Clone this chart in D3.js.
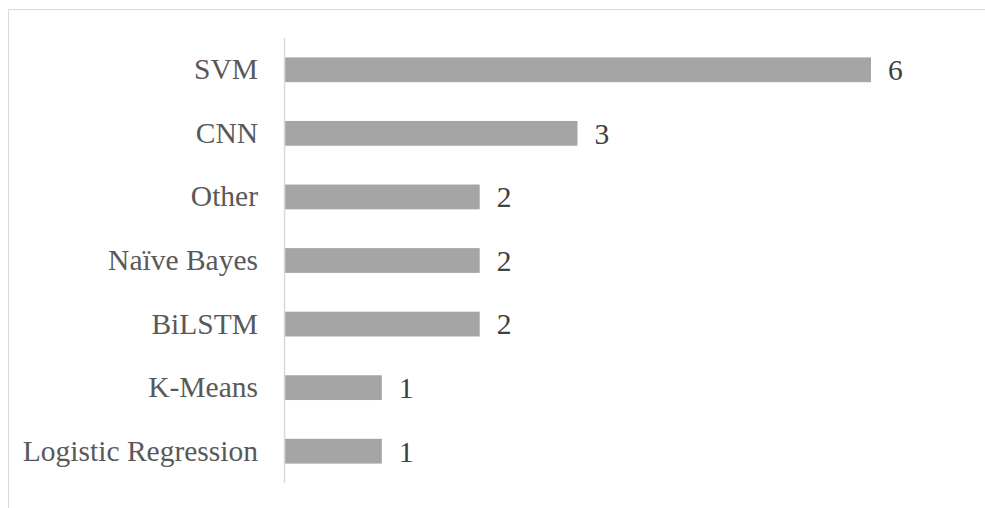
<!DOCTYPE html>
<html>
<head>
<meta charset="utf-8">
<script src="https://cdn.jsdelivr.net/npm/d3@7"></script>
<style>
  html, body { margin: 0; padding: 0; background: #fff; }
  svg { display: block; }
</style>
</head>
<body>
<svg id="chart" width="985" height="508"></svg>
<script>
// Classifier usage counts, top to bottom
const categories = ["SVM", "CNN", "Other", "Naïve Bayes", "BiLSTM", "K-Means", "Logistic Regression"];
const counts = [6, 3, 2, 2, 2, 1, 1];

const svg = d3.select("#chart");
const W = 985, H = 508;
const font = "'Liberation Serif', 'Times New Roman', serif";
const fontSize = 29.5;

// chart-area frame
svg.append("rect")
  .attr("x", 8.5).attr("y", 9.5)
  .attr("width", W + 10).attr("height", H + 10)
  .attr("fill", "none").attr("stroke", "#d9d9d9").attr("stroke-width", 1);

const plot = { left: 284, right: 871, top: 38, bottom: 483 };

const x = d3.scaleLinear().domain([0, 6]).range([plot.left, plot.right]);
const y = d3.scaleBand().domain(categories).range([plot.top, plot.bottom])
  .paddingInner(0.61).paddingOuter(0.305);

// bars
svg.append("g").selectAll("rect")
  .data(categories)
  .join("rect")
  .attr("x", x(0))
  .attr("y", d => y(d))
  .attr("width", (d, i) => x(counts[i]) - x(0))
  .attr("height", y.bandwidth())
  .attr("fill", "#a5a5a5");

// value labels
svg.append("g").selectAll("text")
  .data(categories)
  .join("text")
  .attr("x", (d, i) => x(counts[i]) + 17)
  .attr("y", d => y(d) + y.bandwidth() / 2)
  .attr("dy", "0.35em")
  .attr("font-family", font)
  .attr("font-size", fontSize)
  .attr("fill", "#404040")
  .text((d, i) => counts[i]);

// category axis
const axis = svg.append("g")
  .attr("transform", `translate(${plot.left},0)`)
  .call(d3.axisLeft(y).tickSize(0).tickPadding(26));
axis.select(".domain")
  .attr("stroke", "#d9d9d9").attr("stroke-width", 1.5)
  .attr("d", `M0.5,${plot.top}V${plot.bottom}`);
axis.selectAll("text")
  .attr("font-family", font)
  .attr("font-size", fontSize)
  .attr("fill", "#595959");
</script>
</body>
</html>
